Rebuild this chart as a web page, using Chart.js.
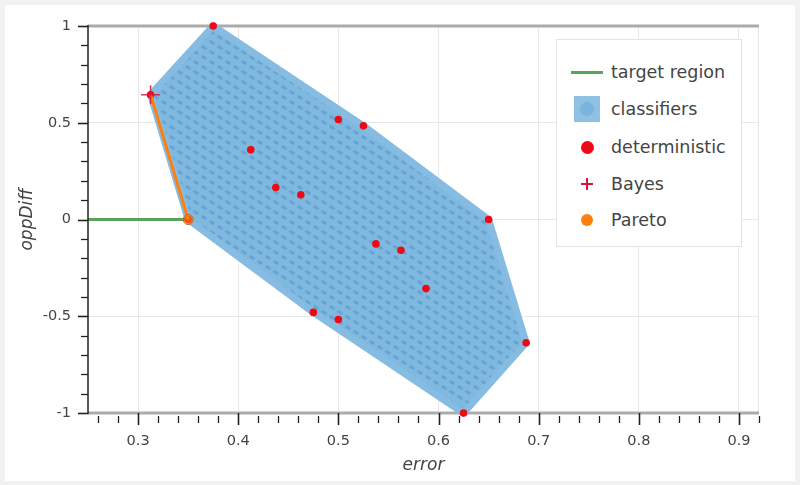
<!DOCTYPE html>
<html><head><meta charset="utf-8">
<script src="https://cdn.jsdelivr.net/npm/chart.js@4.4.0/dist/chart.umd.min.js"></script>
<style>
html,body{margin:0;padding:0;background:#f2f2f2;}
#wrap{position:relative;width:800px;height:485px;overflow:hidden;}
#panel{position:absolute;left:5px;top:5px;width:790px;height:476px;background:#fff;}
#c{position:absolute;left:0;top:0;}
#legend{position:absolute;left:556px;top:39px;width:186px;height:208px;background:#fff;border:1px solid #e3e3e3;box-sizing:border-box;font-family:'DejaVu Sans',sans-serif;font-size:17.5px;color:#444;}
.item{position:absolute;left:0;height:30px;width:100%;}
.lbl{position:absolute;left:54px;top:50%;transform:translateY(-52%);white-space:nowrap;}
.ic{position:absolute;}
</style></head>
<body>
<div id="wrap">
<div id="panel"></div>
<canvas id="c" width="800" height="485"></canvas>
<div id="legend">
  <div class="item" style="top:17px"><div class="ic" style="left:14px;top:13.5px;width:32px;height:3px;background:#5aa35a"></div><span class="lbl">target region</span></div>
  <div class="item" style="top:54px"><div class="ic" style="left:17px;top:2px;width:26px;height:26px;background:#8fc1e3"></div><div class="ic" style="left:23px;top:8px;width:14px;height:14px;border-radius:50%;background:#7ab4de"></div><span class="lbl">classifiers</span></div>
  <div class="item" style="top:92px"><div class="ic" style="left:23.5px;top:8.5px;width:13px;height:13px;border-radius:50%;background:#ee0a14"></div><span class="lbl">deterministic</span></div>
  <div class="item" style="top:129px"><div class="ic" style="left:24px;top:14px;width:12px;height:2px;background:#dc143c"></div><div class="ic" style="left:29px;top:9px;width:2px;height:12px;background:#dc143c"></div><span class="lbl">Bayes</span></div>
  <div class="item" style="top:165px"><div class="ic" style="left:24px;top:9px;width:12px;height:12px;border-radius:50%;background:#ff7f0e"></div><span class="lbl">Pareto</span></div>
</div>
</div>
<script>
// ---- data ----
const xMajorTicks = [0.3, 0.4, 0.5, 0.6, 0.7, 0.8, 0.9];
const xTickLabels = ['0.3', '0.4', '0.5', '0.6', '0.7', '0.8', '0.9'];
const yMajorTicks = [-1, -0.5, 0, 0.5, 1];
const yTickLabels = ['-1', '-0.5', '0', '0.5', '1'];

const detError   = [0.375, 0.3125, 0.4125, 0.4375, 0.4625, 0.5,   0.525, 0.5375, 0.5625, 0.5875, 0.65, 0.6875, 0.625, 0.475, 0.5,    0.35];
const detOppDiff = [1.0,   0.645,  0.36,   0.165,  0.128,  0.517, 0.484, -0.126, -0.159, -0.357, 0.0,  -0.637,  -1.0,  -0.48, -0.517, 0.0];

const hullError   = [0.3125, 0.375, 0.525, 0.65, 0.6875, 0.625, 0.475, 0.35, 0.3125];
const hullOppDiff = [0.645,  1.0,   0.484, 0.0,  -0.637, -1.0,  -0.48, 0.0,  0.645];

const bayesError = [0.3125];
const bayesOppDiff = [0.645];

const paretoError = [0.3125, 0.35];
const paretoOppDiff = [0.645, 0.0];

const targetError = [0.25, 0.35];
const targetOppDiff = [0, 0];

// ---- helpers ----
const pts = (xs, ys) => xs.map((v, i) => ({x: v, y: ys[i]}));
const near = (a, b) => Math.abs(a - b) < 1e-6;
const xAllTicks = []; for (let k = 13; k <= 46; k++) xAllTicks.push(k / 50);
const yAllTicks = []; for (let k = -10; k <= 10; k++) yAllTicks.push(k / 10);
const isMajorX = v => xMajorTicks.some(m => near(m, v));
const isMajorY = v => yMajorTicks.some(m => near(m, v));

// dotted texture for the classifier cloud
function makePattern() {
  const pc = document.createElement('canvas');
  pc.width = 16; pc.height = 10;
  const g = pc.getContext('2d');
  g.fillStyle = '#80b9e0'; g.fillRect(0, 0, 16, 10);
  g.fillStyle = 'rgba(80,145,200,0.5)';
  g.beginPath(); g.ellipse(4, 2.5, 3.2, 1.6, 0.5, 0, Math.PI * 2); g.fill();
  g.beginPath(); g.ellipse(12, 7.5, 3.2, 1.6, 0.5, 0, Math.PI * 2); g.fill();
  return g.createPattern(pc, 'repeat');
}
const cloudFill = makePattern();

const axisDecor = {
  id: 'axisDecor',
  beforeDatasetsDraw(chart) {
    const {ctx, chartArea: a, scales: {x, y}} = chart;
    ctx.save();
    ctx.strokeStyle = '#e6e6e6'; ctx.lineWidth = 1;
    ctx.beginPath(); ctx.moveTo(a.right - 0.5, a.top); ctx.lineTo(a.right - 0.5, a.bottom); ctx.stroke();
    ctx.strokeStyle = '#ababab'; ctx.lineWidth = 3;
    [1, -1].forEach(v => {
      const py = y.getPixelForValue(v);
      ctx.beginPath(); ctx.moveTo(a.left, py); ctx.lineTo(a.right, py); ctx.stroke();
    });
    ctx.restore();
  },
  afterDraw(chart) {
    const {ctx, chartArea: a, scales: {x, y}} = chart;
    ctx.save();
    ctx.strokeStyle = '#222'; ctx.lineWidth = 1.5;
    ctx.beginPath(); ctx.moveTo(a.left, y.getPixelForValue(1) - 1); ctx.lineTo(a.left, y.getPixelForValue(-1) + 1); ctx.stroke();
    x.ticks.forEach(t => {
      const px = Math.round(x.getPixelForValue(t.value)) + 0.5;
      const maj = isMajorX(t.value);
      ctx.lineWidth = maj ? 1.6 : 1.3;
      ctx.beginPath();
      ctx.moveTo(px, a.bottom + (maj ? 0 : 3));
      ctx.lineTo(px, a.bottom + (maj ? 12 : 10));
      ctx.stroke();
    });
    y.ticks.forEach(t => {
      const py = Math.round(y.getPixelForValue(t.value)) + 0.5;
      const maj = isMajorY(t.value);
      ctx.lineWidth = maj ? 1.6 : 1.3;
      ctx.beginPath();
      ctx.moveTo(a.left - (maj ? 10 : 7), py);
      ctx.lineTo(a.left, py);
      ctx.stroke();
    });
    ctx.restore();
  }
};

Chart.defaults.font.family = "'DejaVu Sans', sans-serif";

new Chart(document.getElementById('c'), {
  type: 'scatter',
  data: {
    datasets: [
      {
        label: 'classifiers', data: pts(hullError, hullOppDiff), showLine: true,
        fill: 'shape', backgroundColor: cloudFill, borderColor: '#86bce2', borderWidth: 7,
        borderJoinStyle: 'round', pointRadius: 0, order: 5, clip: false, tension: 0
      },
      {
        label: 'target region', data: pts(targetError, targetOppDiff), showLine: true,
        borderColor: '#5aa35a', borderWidth: 3, pointRadius: 0, order: 4, clip: false
      },
      {
        label: 'deterministic', data: pts(detError, detOppDiff),
        backgroundColor: '#ee0a14', borderWidth: 0, pointRadius: 3.8, order: 3, clip: false
      },
      {
        label: 'Pareto', data: pts(paretoError, paretoOppDiff), showLine: true,
        borderColor: '#ff7f0e', borderWidth: 3, pointRadius: [0, 5],
        pointBackgroundColor: 'rgba(255,127,14,0.6)', pointBorderColor: '#c8621a', pointBorderWidth: 1,
        order: 2, clip: false
      },
      {
        label: 'Bayes', data: pts(bayesError, bayesOppDiff),
        pointStyle: 'cross', pointRadius: 9.5, borderColor: 'rgba(220,20,60,0.85)', borderWidth: 1.5,
        order: 1, clip: false
      }
    ]
  },
  options: {
    responsive: false, animation: false,
    layout: {padding: {left: 5, top: 26, right: 41, bottom: 0}},
    plugins: {legend: {display: false}, tooltip: {enabled: false}},
    scales: {
      x: {
        type: 'linear', min: 0.25, max: 0.92,
        afterBuildTicks: s => { s.ticks = xAllTicks.map(v => ({value: v})); },
        afterFit: s => { s.height = 72; },
        grid: {color: c => (c.tick && isMajorX(c.tick.value)) ? '#e8e8e8' : 'rgba(0,0,0,0)', drawTicks: false},
        border: {display: false},
        ticks: {
          autoSkip: false, maxRotation: 0, padding: 20, color: '#444', font: {size: 14.5},
          callback: v => { const i = xMajorTicks.findIndex(m => near(m, v)); return i >= 0 ? xTickLabels[i] : ''; }
        },
        title: {display: true, text: 'error', color: '#444', font: {size: 17, style: 'italic'}, padding: {top: 0, bottom: 9}}
      },
      y: {
        type: 'linear', min: -1, max: 1,
        afterBuildTicks: s => { s.ticks = yAllTicks.map(v => ({value: v})); },
        afterFit: s => { s.width = 83; },
        grid: {color: c => (c.tick && isMajorY(c.tick.value) && Math.abs(c.tick.value) < 0.99) ? '#e8e8e8' : 'rgba(0,0,0,0)', drawTicks: false},
        border: {display: false},
        ticks: {
          autoSkip: false, padding: 17, color: '#444', font: {size: 14.5},
          callback: v => { const i = yMajorTicks.findIndex(m => near(m, v)); return i >= 0 ? yTickLabels[i] : ''; }
        },
        title: {display: true, text: 'oppDiff', color: '#444', font: {size: 17, style: 'italic'}, padding: {top: 12, bottom: 0}}
      }
    }
  },
  plugins: [axisDecor]
});
</script>
</body></html>
